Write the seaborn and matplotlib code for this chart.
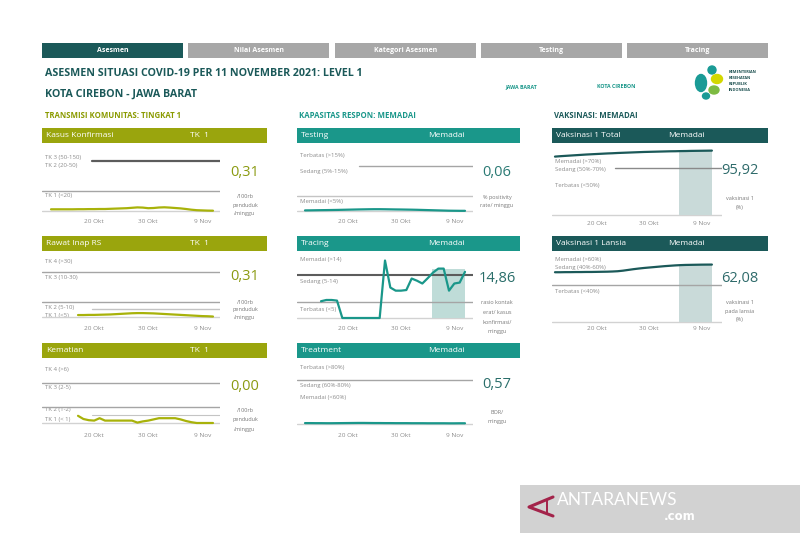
import numpy as np
import pandas as pd
import matplotlib
matplotlib.use("Agg")
import matplotlib.pyplot as plt
import seaborn as sns
from matplotlib.patches import Rectangle, Ellipse

sns.set_theme(style="white")
plt.rcParams['font.family'] = ['Open Sans', 'DejaVu Sans']

# ---------------- data ----------------
tick_days = [19, 29, 39]          # day index (1 = 1 Okt)
tick_labels = ["20 Okt", "30 Okt", "9 Nov"]

kasus_days = list(range(11, 42))
kasus_vals = [1.7, 1.7, 1.7, 1.7, 1.7, 1.8, 1.8, 1.9, 1.9, 2.0,
              2.0, 2.2, 2.4, 2.6, 2.8, 3.2, 3.6, 3.4, 2.8, 3.0,
              3.5, 3.7, 3.4, 3.0, 2.6, 2.0, 1.3, 0.8, 0.6, 0.4, 0.31]

rawat_days = list(range(16, 42))
rawat_vals = [1.3, 1.3, 1.4, 1.4, 1.5, 1.6, 1.7, 1.9, 2.1, 2.3,
              2.5, 2.6, 2.6, 2.5, 2.4, 2.2, 2.0, 1.8, 1.6, 1.4,
              1.2, 1.0, 0.8, 0.6, 0.5, 0.31]

kematian_days = list(range(16, 42))
kematian_vals = [0.9, 0.5, 0.35, 0.3, 0.6, 0.3, 0.3, 0.3, 0.3, 0.3,
                 0.3, 0.05, 0.2, 0.3, 0.45, 0.6, 0.6, 0.6, 0.6, 0.45,
                 0.25, 0.1, 0.0, 0.0, 0.0, 0.0]

testing_days = list(range(11, 42))
testing_vals = [0.20, 0.22, 0.25, 0.28, 0.30, 0.33, 0.36, 0.40, 0.44, 0.48,
                0.52, 0.55, 0.58, 0.60, 0.60, 0.58, 0.55, 0.52, 0.50, 0.47,
                0.44, 0.40, 0.35, 0.30, 0.25, 0.20, 0.15, 0.10, 0.08, 0.06, 0.06]

tracing_days = list(range(14, 42))
tracing_vals = [5.4, 5.8, 5.8, 5.6, 0, 0, 0, 0, 0, 0, 0, 0,
                18.5, 9.8, 8.8, 8.8, 9.0, 12.7, 12.0, 11.1, 12.8, 14.6,
                15.9, 15.9, 8.8, 11.1, 11.4, 14.86]

treatment_days = list(range(11, 42))
treatment_vals = [0.9, 0.9, 0.8, 0.8, 0.7, 0.7, 0.8, 0.9, 1.0, 1.1,
                  1.2, 1.2, 1.1, 1.0, 1.0, 0.9, 0.9, 0.8, 0.8, 0.8,
                  0.7, 0.7, 0.7, 0.6, 0.6, 0.6, 0.6, 0.5, 0.5, 0.6, 0.57]

vaks_total_days = list(range(11, 42))
vaks_total_vals = [87.0, 87.6, 88.1, 88.6, 89.1, 89.6, 90.1, 90.5, 90.9, 91.3,
                   91.7, 92.0, 92.4, 92.7, 93.0, 93.3, 93.6, 93.9, 94.1, 94.3,
                   94.5, 94.7, 94.9, 95.0, 95.2, 95.3, 95.5, 95.6, 95.7, 95.8, 95.92]

vaks_lansia_days = list(range(11, 42))
vaks_lansia_vals = [53.8, 53.8, 53.9, 53.9, 54.0, 54.0, 54.1, 54.1, 54.2, 54.3,
                    54.4, 54.6, 54.9, 55.5, 56.3, 57.1, 57.8, 58.4, 58.9, 59.4,
                    59.9, 60.4, 60.8, 61.2, 61.5, 61.7, 61.8, 61.9, 62.0, 62.05, 62.08]

band_days = [35, 41]   # shaded recent period

current_values = {"kasus": "0,31", "rawat": "0,31", "kematian": "0,00",
                  "testing": "0,06", "tracing": "14,86", "treatment": "0,57",
                  "total": "95,92", "lansia": "62,08"}

# ---------------- style ----------------
OLIVE = "#9aa50d"
OLIVE_LINE = "#a8b20a"
TEAL = "#1a978a"
DTEAL = "#1b5959"
GRAY_T = "#8c8c8c"
W, H = 800, 533

fig = plt.figure(figsize=(8, 5.33), dpi=100)
fig.patch.set_facecolor("white")

ov = fig.add_axes([0, 0, 1, 1])
ov.set_xlim(0, W)
ov.set_ylim(H, 0)
ov.axis("off")


def rect(x0, y0, x1, y1, color, z=1):
    ov.add_patch(Rectangle((x0, y0), x1 - x0, y1 - y0, color=color, lw=0, zorder=z))


def txt(x, y, s, **kw):
    kw.setdefault("va", "center")
    ov.text(x, y, s, **kw)


def px_axes(x0, y0, x1, y1):
    return fig.add_axes([x0 / W, 1 - y1 / H, (x1 - x0) / W, (y1 - y0) / H])


# ---------------- tabs ----------------
tabs = ["Asesmen", "Nilai Asesmen", "Kategori Asesmen", "Testing", "Tracing"]
tab_x = [42, 188, 335, 481, 627]
for i, (t, x) in enumerate(zip(tabs, tab_x)):
    rect(x, 43, x + 141, 58, DTEAL if i == 0 else "#a7a7a7")
    txt(x + 70.5, 50.5, t, ha="center", color="white", fontsize=5, fontweight="bold")

# ---------------- titles ----------------
TF = ['Liberation Sans Narrow', 'Open Sans', 'DejaVu Sans']
txt(45, 74, "ASESMEN SITUASI COVID-19 PER 11 NOVEMBER 2021: LEVEL 1", color=DTEAL,
    fontsize=7.7, fontweight="bold", family=TF)
txt(45, 94, "KOTA CIREBON - JAWA BARAT", color=DTEAL, fontsize=7.7, fontweight="bold", family=TF)
txt(505, 87, "JAWA BARAT", color=TEAL, fontsize=3.8, fontweight="bold")
txt(597, 87, "KOTA CIREBON", color=TEAL, fontsize=3.8, fontweight="bold")

# Kemenkes logo (simple shapes)
ov.add_patch(Ellipse((701, 83), 11, 17, color="#1a9b96", zorder=2))
ov.add_patch(Ellipse((712, 70), 8, 8, color="#1a9b96", zorder=2))
ov.add_patch(Ellipse((717, 79), 11, 9, color="#d3d800", zorder=2))
ov.add_patch(Ellipse((714, 90), 10, 8, color="#7dbb42", zorder=2))
ov.add_patch(Ellipse((706, 96), 7, 6, color="#1a9b96", zorder=2))
for i, w in enumerate(["KEMENTERIAN", "KESEHATAN", "REPUBLIK", "INDONESIA"]):
    txt(729, 72 + i * 6, w, color="#1b4f4f", fontsize=2.8, fontweight="bold")

# section headings
txt(45, 116, "TRANSMISI KOMUNITAS: TINGKAT 1", color="#8a9a00", fontsize=5.6, fontweight="bold")
txt(299, 116, "KAPASITAS RESPON: MEMADAI", color=TEAL, fontsize=5.6, fontweight="bold")
txt(554, 116, "VAKSINASI: MEMADAI", color=DTEAL, fontsize=5.6, fontweight="bold")

# ---------------- panel helper ----------------
def panel(box, hdr, title, status, status_x, hcolor, days, vals, lcolor,
          xlim, ylim, thresholds, labels, value, vcolor, vx, vy, units, uy,
          band=False, band_color="#c3dcd9"):
    hx0, hy0, hx1 = hdr
    rect(hx0, hy0, hx1, hy0 + 15, hcolor)
    txt(hx0 + 4, hy0 + 7.5, title, color="white", fontsize=6)
    txt(status_x, hy0 + 7.5, status, color="white", fontsize=6)

    ax = px_axes(*box)
    df = pd.DataFrame({"day": days, "val": vals})
    ax.axhline(0, color="#d2d2d2", lw=1.0, zorder=1)
    for value_t, col, lw, xmin in thresholds:
        ax.axhline(value_t, xmin=xmin, xmax=1, color=col, lw=lw, zorder=2)
    if band:
        sub = df[(df.day >= band_days[0]) & (df.day <= band_days[1])]
        ax.fill_between([band_days[0] - 0.2, band_days[1]], 0, sub.val.max(),
                        color=band_color, lw=0, zorder=1.5)
    sns.lineplot(data=df, x="day", y="val", ax=ax, color=lcolor, lw=1.6, zorder=3)
    ax.set_xlim(*xlim)
    ax.set_ylim(*ylim)
    ax.set_xticks(tick_days)
    ax.set_xticklabels(tick_labels, fontsize=4.6, color=GRAY_T)
    ax.tick_params(axis="x", length=0, pad=1.5)
    ax.set_yticks([])
    ax.set_xlabel("")
    ax.set_ylabel("")
    for s in ax.spines.values():
        s.set_visible(False)
    ax.patch.set_alpha(0)

    lx = box[0] + 3
    for s, y in labels:
        txt(lx, y, s, color=GRAY_T, fontsize=4.3)
    txt(vx, vy, value, ha="center", color=vcolor, fontsize=10.5)
    for s, y in zip(units, uy):
        txt(vx, y, s, ha="center", color="#7a7a7a", fontsize=4)
    return ax


C1 = (9.33, 42.3)
C2 = (9.5, 42.5)
C3 = (10.43, 42.93)
DARK = "#5c5c5c"
MID = "#a5a5a5"
LIGHT = "#c4c4c4"

# Column 1
panel((42, 146, 220, 217), (42, 128, 267), "Kasus Konfirmasi", "TK  1", 190, OLIVE,
      kasus_days, kasus_vals, OLIVE_LINE, C1, (-6, 65),
      [(50, DARK, 1.6, 0.28), (20, MID, 1.0, 0)],
      [("TK 3 (50-150)", 157), ("TK 2 (20-50)", 165), ("TK 1 (<20)", 196)],
      current_values["kasus"], "#8a9a10", 245, 172, ["/100rb", "penduduk", "/minggu"], [197, 205, 213])

panel((42, 253, 220, 324), (42, 236, 267), "Rawat Inap RS", "TK  1", 190, OLIVE,
      rawat_days, rawat_vals, OLIVE_LINE, C1, (-4.67, 42.67),
      [(30, MID, 1.0, 0), (10, MID, 1.0, 0), (5, LIGHT, 1.0, 0.28)],
      [("TK 4 (>30)", 261), ("TK 3 (10-30)", 278), ("TK 2 (5-10)", 307), ("TK 1 (<5)", 316)],
      current_values["rawat"], "#8a9a10", 245, 277, ["/100rb", "penduduk", "/minggu"], [302, 310, 318])

panel((42, 360, 220, 431), (42, 343, 267), "Kematian", "TK  1", 190, OLIVE,
      kematian_days, kematian_vals, OLIVE_LINE, C1, (-1.0, 7.875),
      [(5, MID, 1.0, 0), (2, MID, 1.0, 0), (1, LIGHT, 0.8, 0.28)],
      [("TK 4 (>6)", 369), ("TK 3 (2-5)", 388), ("TK 2 (1-2)", 410), ("TK 1 (< 1)", 419)],
      current_values["kematian"], "#8a9a10", 245, 387, ["/100rb", "penduduk", "/minggu"], [411, 420, 430])

# Column 2
panel((297, 146, 473, 217), (297, 128, 520), "Testing", "Memadai", 428, TEAL,
      testing_days, testing_vals, TEAL, C2, (-2, 21.67),
      [(15, MID, 1.0, 0.35), (5, LIGHT, 1.0, 0)],
      [("Terbatas (>15%)", 155), ("Sedang (5%-15%)", 172), ("Memadai (<5%)", 202)],
      current_values["testing"], "#2a7a74", 497, 173, ["% positivity", "rate/ minggu"], [197, 205])

panel((297, 253, 473, 324), (297, 236, 520), "Tracing", "Memadai", 428, TEAL,
      tracing_days, tracing_vals, TEAL, C2, (-1.93, 20.92),
      [(14, DARK, 1.5, 0), (5, MID, 1.0, 0)],
      [("Memadai (>14)", 260), ("Sedang (5-14)", 281), ("Terbatas (<5)", 309)],
      current_values["tracing"], "#2a6e6a", 497, 278,
      ["rasio kontak", "erat/ kasus", "konfirmasi/", "minggu"], [303, 313, 322, 332],
      band=True, band_color="#bfdcd8")

panel((297, 360, 473, 431), (297, 343, 520), "Treatment", "Memadai", 428, TEAL,
      treatment_days, treatment_vals, TEAL, C2, (-13.6, 116.7),
      [(80, MID, 1.0, 0)],
      [("Terbatas (>80%)", 368), ("Sedang (60%-80%)", 386), ("Memadai (<60%)", 397)],
      current_values["treatment"], "#2a6e6a", 497, 385, ["BOR/", "minggu"], [412, 421])

# Column 3
panel((552, 146, 722, 219), (552, 128, 768), "Vaksinasi 1 Total", "Memadai", 668, DTEAL,
      vaks_total_days, vaks_total_vals, DTEAL, C3, (-5.96, 102.8),
      [(70, "#8a8a8a", 1.0, 0.37)],
      [("Memadai (>70%)", 161), ("Sedang (50%-70%)", 169), ("Terbatas (<50%)", 186)],
      current_values["total"], "#2f6b6b", 740, 171, ["vaksinasi 1", "(%)"], [199, 208],
      band=True, band_color="#c9dad9")

panel((552, 253, 722, 324), (552, 236, 768), "Vaksinasi 1 Lansia", "Memadai", 668, DTEAL,
      vaks_lansia_days, vaks_lansia_vals, DTEAL, C3, (-2.16, 74.6),
      [(40, MID, 1.0, 0)],
      [("Memadai (>60%)", 260), ("Sedang (40%-60%)", 268), ("Terbatas (<40%)", 291)],
      current_values["lansia"], "#2f6b6b", 740, 278, ["vaksinasi 1", "pada lansia", "(%)"], [303, 311, 320],
      band=True, band_color="#c9dad9")

# ---------------- watermark ----------------
rect(520, 485, 800, 533, "#d2d2d2")
ov.plot([553, 529, 553], [497, 507, 516], color="#a3234a", lw=2.2, solid_capstyle="round", zorder=3)
ov.plot([547, 547], [500, 513], color="#a3234a", lw=1.4, zorder=3)
txt(557, 500, "ANTARANEWS", color="white", fontsize=12.5, family=['Lato', 'DejaVu Sans'])
txt(664, 516, ".com", color="white", fontsize=8.5, fontweight="bold", family=['DejaVu Sans'])

fig.savefig("out.png", dpi=100)
